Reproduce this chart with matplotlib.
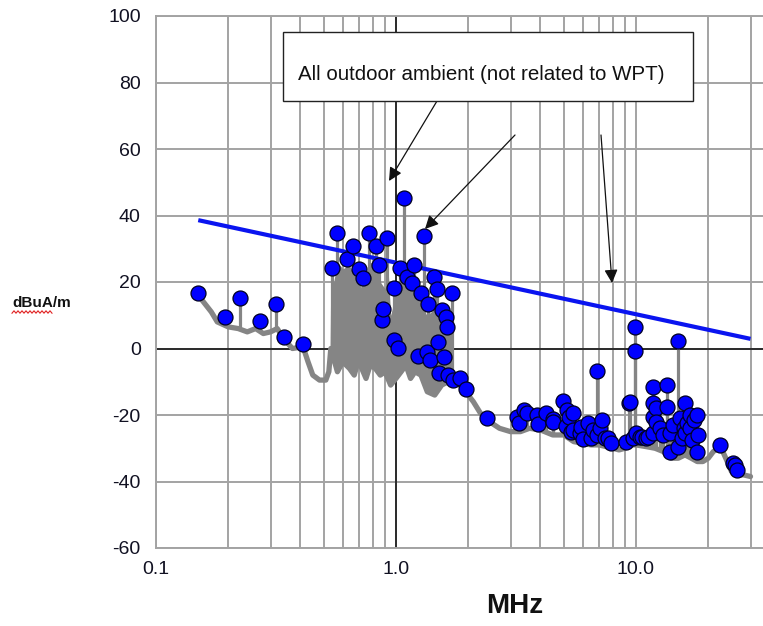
import numpy as np
import matplotlib
matplotlib.use("Agg")
import matplotlib.pyplot as plt
from matplotlib.patches import Rectangle
from matplotlib.lines import Line2D
from matplotlib.ticker import FixedLocator, NullFormatter

plt.rcParams['font.family'] = ['Liberation Sans', 'DejaVu Sans']
plt.rcParams['axes.unicode_minus'] = False

# ---- measured spectrum: noise floor of the gray trace ----
floor_mhz = [0.15, 0.17, 0.18, 0.20, 0.22, 0.24, 0.26, 0.28, 0.30, 0.32, 0.34,
             0.37, 0.41, 0.43, 0.45, 0.48, 0.51, 0.525, 0.535, 0.55, 0.57, 0.60,
             0.64, 0.67, 0.70, 0.72, 0.75, 0.78, 0.82, 0.86, 0.90, 0.95, 1.0,
             1.05, 1.1, 1.15, 1.2, 1.27, 1.35, 1.45, 1.55, 1.65, 1.75, 1.85,
             1.95, 2.1, 2.25, 2.45, 2.7, 3.0, 3.3, 3.6, 4.0, 4.5, 5.0, 5.5,
             6.0, 6.5, 7.0, 7.5, 8.0, 8.5, 9.0, 9.5, 10.0, 11.0, 12.0, 13.0,
             14.0, 15.0, 16.0, 17.0, 18.0, 19.0, 20.0, 21.0, 22.0, 23.0, 24.0,
             25.0, 26.0, 28.0, 30.0]
floor_db = [16.0, 11.0, 8.0, 6.5, 6.0, 5.0, 6.0, 4.5, 5.0, 6.0, 3.0,
            0.0, 0.5, -4.0, -8.0, -9.5, -9.5, -7.0, 0.0, -3.0, -7.0, -4.0,
            -6.0, -8.0, -3.0, -6.0, -9.0, -5.0, -6.0, -8.0, -7.0, -11.0, -9.0,
            -7.0, -5.0, -9.0, -7.0, -8.0, -13.0, -14.0, -11.0, -10.0, -10.0, -11.0,
            -13.0, -16.0, -19.5, -22.0, -24.0, -25.0, -25.0, -24.0, -24.5, -26.0, -26.0, -28.0,
            -28.5, -29.0, -29.0, -29.5, -30.0, -30.5, -30.0, -29.0, -29.0, -29.5, -30.0, -31.0,
            -33.0, -33.0, -32.0, -33.0, -34.0, -34.0, -33.0, -31.0, -30.0, -31.0, -34.0,
            -37.0, -38.0, -38.0, -38.5]

# ---- dense band of emissions between ~0.53 and 1.7 MHz ----
band_mhz = [0.530, 0.535, 0.55, 0.57, 0.60, 0.64, 0.67, 0.70, 0.72, 0.75, 0.78,
            0.82, 0.86, 0.90, 0.93, 0.95, 0.98, 1.0, 1.05, 1.1, 1.15, 1.2,
            1.27, 1.35, 1.45, 1.55, 1.65, 1.70, 1.72]
band_low = [-7, -2, -3, -7, -4, -6, -8, -3, -6, -9, -5,
            -6, -8, -7, -9, -11, -10, -9, -7, -5, -9, -7,
            -8, -13, -14, -11, -10, -10, -10]
band_high = [-7, 22, 20, 26, 24, 25, 22, 21, 18, 22, 26,
             25, 20, 18, 22, 10, 14, 18, 21, 20, 18, 20,
             12, 10, 12, 8, 6, 12, -10]

# ---- detected peaks (MHz, dBuA/m) ----
peak_mhz = [0.150, 0.193, 0.224, 0.271, 0.317, 0.340, 0.410,
            0.539, 0.569, 0.623, 0.660, 0.701, 0.731, 0.772, 0.826, 0.852,
            0.872, 0.885, 0.914, 0.981, 0.981, 1.016, 1.039, 1.083, 1.108,
            1.163, 1.192, 1.230, 1.268, 1.312, 1.342, 1.363, 1.386, 1.443,
            1.476, 1.499, 1.514, 1.549, 1.585, 1.614, 1.636, 1.650, 1.706,
            1.733, 1.848, 1.950, 2.40,
            3.18, 3.24, 3.40, 3.53, 3.86, 3.92, 4.20, 4.49, 4.53, 4.98,
            5.11, 5.14, 5.25, 5.37, 5.46, 5.46, 5.83, 5.90, 6.02, 6.32,
            6.52, 6.60, 6.88, 6.90, 7.11, 7.25, 7.40, 7.65, 7.90, 9.07,
            9.37, 9.45, 9.74, 9.90, 9.90, 10.0, 10.4, 10.6, 11.0, 11.25,
            11.8, 11.8, 11.8, 11.8, 12.1, 12.1, 12.6, 13.0, 13.4, 13.5,
            13.9, 13.9, 14.3, 14.9, 15.0, 15.2, 15.5, 15.8, 16.0, 16.0,
            16.3, 16.8, 16.8, 17.1, 17.5, 17.9, 18.0, 18.1, 22.4, 25.4,
            25.8, 26.4]
peak_db = [16.8, 9.6, 15.1, 8.3, 13.5, 3.5, 1.3,
           24.3, 34.8, 26.9, 30.8, 23.9, 21.3, 34.6, 30.9, 25.1,
           8.6, 11.8, 33.3, 18.3, 2.6, 0.2, 24.1, 45.4, 21.4,
           19.6, 25.1, -2.2, 16.6, 33.9, -1.0, 13.3, -3.5, 21.6,
           17.8, 2.0, -7.3, 11.6, -2.5, 9.6, 6.6, -8.0, 16.6,
           -9.5, -9.0, -12.2, -20.8,
           -20.5, -22.3, -18.5, -19.5, -20.0, -22.8, -19.5, -21.2, -22.0, -15.8,
           -23.3, -18.5, -20.5, -25.0, -19.5, -24.5, -25.5, -23.5, -27.3, -22.3,
           -26.8, -24.5, -6.7, -26.0, -24.0, -21.5, -27.0, -27.0, -28.5, -28.0,
           -16.5, -16.0, -27.0, 6.6, -0.8, -25.5, -26.7, -26.5, -26.8, -26.5,
           -25.5, -11.5, -16.5, -20.5, -18.0, -22.0, -24.0, -26.0, -11.0, -17.7,
           -25.5, -31.0, -23.0, -29.5, 2.3, -21.0, -27.0, -24.0, -16.5, -25.5,
           -22.5, -24.0, -20.0, -27.5, -21.5, -20.0, -31.0, -26.0, -29.0, -34.5,
           -35.0, -36.5]

# ---- limit line ----
limit_mhz = [0.15, 30.0]
limit_db = [38.6, 2.9]

x_ticks = [0.1, 1.0, 10.0]
x_tick_labels = ['0.1', '1.0', '10.0']
y_ticks = [-60, -40, -20, 0, 20, 40, 60, 80, 100]

W, H = 763, 626
fig = plt.figure(figsize=(W / 100, H / 100), dpi=100)


def fx(px):
    return px / W


def fy(py):
    return 1 - py / H


ax = fig.add_axes([fx(156), fy(548), 240 * np.log10(500) / W, 532 / H])
ax.set_xscale('log')
ax.set_xlim(0.1, 50)
ax.set_ylim(-60, 100)

ax.xaxis.set_major_locator(FixedLocator(x_ticks))
ax.set_xticklabels(x_tick_labels)
minor = [m * d for d in (0.1, 1.0, 10.0) for m in range(2, 10)]
ax.xaxis.set_minor_locator(FixedLocator(minor))
ax.xaxis.set_minor_formatter(NullFormatter())
ax.set_yticks(y_ticks)

grid_col = '#a3a3a3'
ax.grid(which='both', axis='x', color=grid_col, lw=1.4, zorder=0)
ax.grid(which='major', axis='y', color=grid_col, lw=1.4, zorder=0)
ax.set_axisbelow(True)
ax.tick_params(which='both', length=0)
ax.tick_params(axis='y', pad=11, labelsize=14, labelcolor='#111122')
ax.tick_params(axis='x', pad=9, labelsize=14, labelcolor='#111122')
for side in ('left', 'bottom', 'top'):
    ax.spines[side].set_color(grid_col)
    ax.spines[side].set_linewidth(1.4)
ax.spines['right'].set_visible(False)

ax.axhline(0, color='#222222', lw=1.3, zorder=1)
ax.axvline(1.0, color='#222222', lw=1.3, zorder=1)

gray = '#858585'
ax.fill_between(band_mhz, band_low, band_high, color=gray, lw=0, zorder=2)
ax.plot(floor_mhz, floor_db, color=gray, lw=3.8, solid_joinstyle='round',
        solid_capstyle='round', zorder=2)
stem_base = np.interp(np.log10(peak_mhz), np.log10(floor_mhz), floor_db)
ax.vlines(peak_mhz, stem_base, peak_db, color=gray, lw=2.3, zorder=2)

ax.plot(limit_mhz, limit_db, color='#0a14f0', lw=3.0, solid_capstyle='butt', zorder=3)

ax.plot(peak_mhz, peak_db, ls='none', marker='o', ms=10.8, mfc='#0000ff',
        mec='#000022', mew=0.9, zorder=4)

# axis titles
fig.text(fx(515), fy(606), 'MHz', ha='center', va='center', fontsize=20,
         fontweight='bold', color='#111111')
fig.text(fx(12), fy(303), 'dBuA/m', ha='left', va='center', fontsize=11,
         fontweight='bold', color='#111111')
sq_x = np.arange(12, 53, 2.0)
sq_y = 312 + np.where(np.arange(len(sq_x)) % 2 == 0, 1.2, -1.2)
fig.add_artist(Line2D(fx(sq_x), fy(sq_y), transform=fig.transFigure,
                      color='#e02020', lw=0.8))

# annotation box and arrows
fig.add_artist(Rectangle((fx(283), fy(101)), (693 - 283) / W, (101 - 32) / H,
                         transform=fig.transFigure, facecolor='white',
                         edgecolor='#222222', lw=1.0, zorder=5))
fig.text(fx(298), fy(75), 'All outdoor ambient (not related to WPT)',
         ha='left', va='center', fontsize=14.8, color='#111111', zorder=6)

arrows = [((437, 101), (389, 181)), ((515, 135), (425, 229)), ((601, 135), (612, 283))]
for (x0, y0), (x1, y1) in arrows:
    ax.annotate('', xy=(fx(x1), fy(y1)), xytext=(fx(x0), fy(y0)),
                xycoords='figure fraction', textcoords='figure fraction',
                annotation_clip=False,
                arrowprops=dict(arrowstyle='-|>', color='#111111', lw=0.9,
                                mutation_scale=20, shrinkA=0, shrinkB=0),
                zorder=6)

fig.savefig('out.png', dpi=100)
